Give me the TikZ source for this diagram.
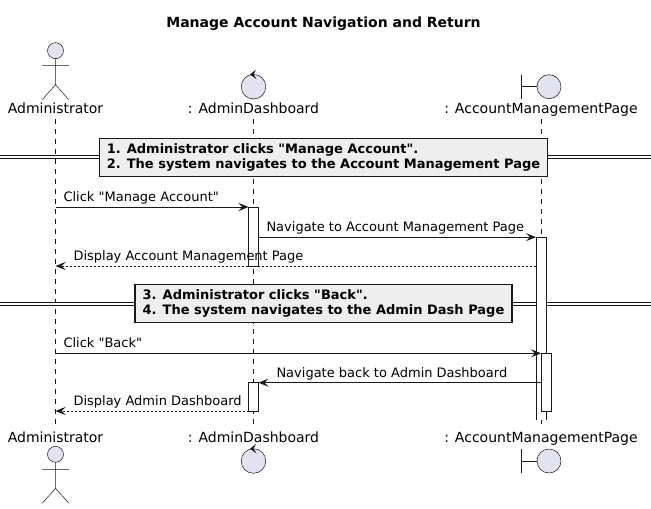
\documentclass[tikz,border=0pt]{standalone}
\usepackage{fontspec}
\setmainfont{DejaVu Sans}[Ligatures=TeXOff]
\usetikzlibrary{arrows.meta,positioning,calc}
\definecolor{umlline}{RGB}{24,24,24}
\definecolor{umlfill}{RGB}{226,226,240}
\definecolor{sepfill}{RGB}{238,238,238}
\tikzset{
  plabel/.style={font=\fontsize{14}{16}\selectfont, anchor=base, inner sep=0pt,
                 text height=10.5pt, text depth=3pt, outer sep=3pt},
  lifeline/.style={draw=umlline, line width=0.5pt, dash pattern=on 5pt off 5pt},
  iconline/.style={draw=umlline, line width=0.5pt},
  actbox/.style={rectangle, draw=umlline, fill=white, line width=1pt,
                 minimum width=10pt, inner sep=0pt, outer sep=0pt},
  msg/.style={draw=umlline, line width=1pt, -{Stealth[length=10pt,width=8pt,inset=4pt]}},
  retmsg/.style={msg, dash pattern=on 2pt off 2pt},
  mlabel/.style={font=\fontsize{13}{15}\selectfont, inner sep=0pt, anchor=base west},
  sepbox/.style={rectangle, draw=umlline, line width=1.5pt, fill=sepfill, align=left,
                 font=\bfseries\fontsize{13}{15}\selectfont, inner xsep=7.5pt, inner ysep=5.2pt},
  sepline/.style={draw=umlline, line width=1pt, double=white, double distance=2.3pt},
  actorpic/.pic={
    \draw[iconline, fill=umlfill] (0,0) circle[radius=8];
    \draw[iconline] (0,8) -- (0,34) (-13.3,15) -- (13.3,15) (-13.3,49) -- (0,34) -- (13.3,49);
  },
  ctrlpic/.pic={
    \draw[iconline, fill=umlfill] (0,0) circle[radius=12.3];
    \fill[umlline] (-3.5,-12.3) -- (2.5,-17) -- (0,-12.3) -- (3,-7.5) -- cycle;
  },
  boundpic/.pic={
    \draw[iconline, fill=umlfill] (0,0) circle[radius=12];
    \draw[iconline] (-28,-12) -- (-28,12) (-28,0) -- (-12,0);
  },
}

\begin{document}
\begin{tikzpicture}[x=1pt,y=-1pt]
\useasboundingbox (0,0) rectangle (651,509);
\node[font=\bfseries\fontsize{14}{16}\selectfont, anchor=base] (title) at (323.5,27) {Manage Account Navigation and Return};

% Participants, top and bottom
\pic at (55.5,50.7) {actorpic};
\pic at (253.5,86.7) {ctrlpic};
\pic at (549,86.7) {boundpic};
\node[plabel] (admT) at (55.5,113) {Administrator};
\node[plabel] (dshT) at (253.5,113) {: AdminDashboard};
\node[plabel] (ampT) at (541,113) {: AccountManagementPage};
\node[plabel] (admB) at (55.5,442) {Administrator};
\node[plabel] (dshB) at (253.5,442) {: AdminDashboard};
\node[plabel] (ampB) at (541,442) {: AccountManagementPage};
\pic at (55.5,454.3) {actorpic};
\pic at (253.5,461) {ctrlpic};
\pic at (549,461) {boundpic};

% Lifelines
\draw[lifeline] (admT) -- (admB);
\draw[lifeline] (dshT) -- (dshB);
\draw[lifeline] (ampT) -- (ampB);

% Separators
\draw[sepline] (0,157) -- (651,157);
\node[sepbox] (sep1) at (323.5,157.5) {1. Administrator clicks "Manage Account".\\2. The system navigates to the Account Management Page};
\draw[sepline] (0,304) -- (651,304);
\node[sepbox] (sep2) at (323.5,303.3) {3. Administrator clicks "Back".\\4. The system navigates to the Admin Dash Page};

% Activations
\node[actbox, minimum height=59pt] (act1) at (253.5,236.5) {};
\node[actbox, draw=none, minimum height=183pt] (act2) at (541,328.65) {};
\draw[umlline, line width=1pt] (act2.south west) -- (act2.north west) -- (act2.north east) -- (act2.south east);
\node[actbox, minimum height=57.7pt] (act3) at (546,382.15) {};
\node[actbox, minimum height=28.3pt] (act4) at (253.5,396.85) {};

% Messages
\draw[msg] (admT |- act1.north) -- node[mlabel, pos=0, xshift=7.5pt, yshift=5.5pt] {Click "Manage Account"} (act1.north west);
\draw[msg] (act1.east |- act2.north west) -- node[mlabel, pos=0, xshift=7.5pt, yshift=5.5pt] {Navigate to Account Management Page} (act2.north west);
\draw[retmsg] (act2.north west |- act1.south) -- node[mlabel, pos=1, xshift=17.5pt, yshift=5.5pt] {Display Account Management Page} (admT |- act1.south);
\draw[msg] (admT |- act3.north) -- node[mlabel, pos=0, xshift=7.5pt, yshift=5.5pt] {Click "Back"} (act3.north west);
\draw[msg] (act3.west |- act4.north) -- node[mlabel, pos=1, xshift=17.5pt, yshift=5.5pt] {Navigate back to Admin Dashboard} (act4.north east);
\draw[retmsg] (act4.south west) -- node[mlabel, pos=1, xshift=17.5pt, yshift=5.5pt] {Display Admin Dashboard} (admT |- act4.south);
\end{tikzpicture}
\end{document}
